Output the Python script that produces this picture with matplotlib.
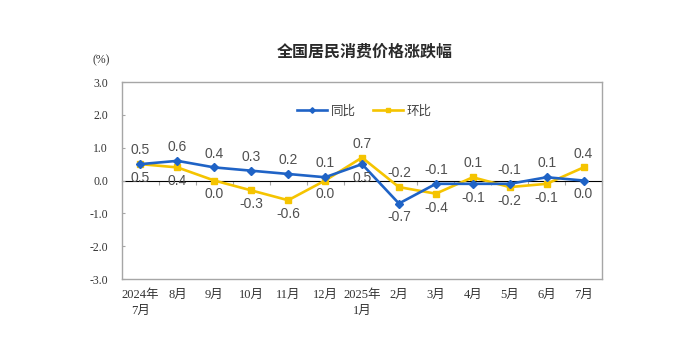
import numpy as np
import matplotlib
matplotlib.use("Agg")
import matplotlib.pyplot as plt

plt.rcParams['font.family'] = ['Liberation Sans', 'Noto Sans CJK SC']

# données
mois = ['2024年\n7月', '8月', '9月', '10月', '11月', '12月', '2025年\n1月',
        '2月', '3月', '4月', '5月', '6月', '7月']
tongbi = [0.5, 0.6, 0.4, 0.3, 0.2, 0.1, 0.5, -0.7, -0.1, -0.1, -0.1, 0.1, 0.0]
huanbi = [0.5, 0.4, 0.0, -0.3, -0.6, 0.0, 0.7, -0.2, -0.4, 0.1, -0.2, -0.1, 0.4]
yticks = [3.0, 2.0, 1.0, 0.0, -1.0, -2.0, -3.0]

bleu = '#1F63C6'
jaune = '#F5C400'
gris = '#A6A6A6'

fig = plt.figure(figsize=(7, 3.6), dpi=100)
ax = fig.add_axes([0.1743, 0.225, 0.6857, 0.547])

x = np.arange(len(mois))
ax.plot(x, tongbi, color=bleu, lw=1.9, marker='D', ms=4, label='同比', zorder=3)
ax.plot(x, huanbi, color=jaune, lw=1.9, marker='s', ms=4.5, label='环比', zorder=2)

# étiquettes : la valeur la plus haute au-dessus, la plus basse en dessous
for i in range(len(x)):
    if tongbi[i] >= huanbi[i]:
        dt, dh = 10, -10
    else:
        dt, dh = -10, 10
    ax.annotate('%.1f' % tongbi[i], (x[i], tongbi[i]), xytext=(0, dt),
                textcoords='offset points', ha='center', va='center',
                fontsize=10, color='#505050')
    ax.annotate('%.1f' % huanbi[i], (x[i], huanbi[i]), xytext=(0, dh),
                textcoords='offset points', ha='center', va='center',
                fontsize=10, color='#505050')

ax.set_xlim(-0.5, len(mois) - 0.5)
ax.set_ylim(-3, 3)
ax.set_yticks(yticks)
ax.set_yticklabels(['%.1f' % v for v in yticks], family='Liberation Serif',
                   fontsize=8.5, color='#333333')
ax.set_xticks(x)
ax.set_xticklabels(mois, family=['Liberation Serif', 'Noto Sans CJK SC'],
                   fontsize=9, color='#333333', linespacing=1.45)
ax.tick_params(axis='x', length=0, pad=7)
ax.tick_params(axis='y', direction='in', length=2, color=gris, pad=10)
for s in ax.spines.values():
    s.set_color(gris)
    s.set_linewidth(1)

# ligne du zéro avec petits traits entre les mois
axe0 = ax.secondary_xaxis(0.5)
axe0.set_xticks(np.arange(len(mois) + 1) - 0.5)
axe0.set_xticklabels([])
axe0.tick_params(direction='in', length=3, color=gris)
axe0.spines['bottom'].set_color(gris)

leg = ax.legend(loc='center', bbox_to_anchor=(0.505, 0.85), ncol=2, frameon=False,
                fontsize=9, handlelength=2.4, handletextpad=0.3,
                columnspacing=1.4, markerscale=0.7)
for t in leg.get_texts():
    t.set_color('#404040')

fig.text(0.521, 0.857, '全国居民消费价格涨跌幅', ha='center', va='center',
         fontsize=11.5, family='Noto Sans CJK SC', fontweight='bold',
         color='#2a2a2a')
fig.text(0.145, 0.833, '(%)', ha='center', va='center', fontsize=8.5,
         family='Liberation Serif', color='#333333')

fig.savefig('out.png', dpi=100)
